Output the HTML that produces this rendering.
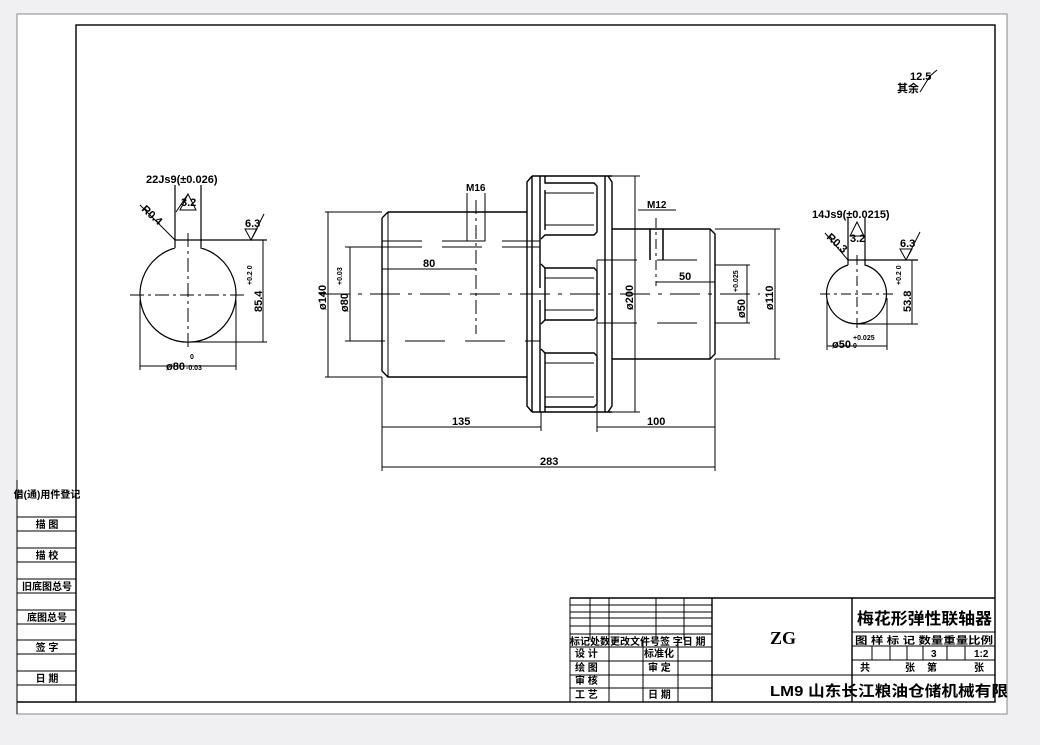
<!DOCTYPE html>
<html><head><meta charset="utf-8"><style>
html,body{margin:0;padding:0;background:#f0f0f2;}
svg{display:block}
text{font-family:"Liberation Sans","Noto Sans CJK SC",sans-serif;font-weight:bold;fill:#000}
</style></head><body>
<svg width="1040" height="745" viewBox="0 0 1040 745" xmlns="http://www.w3.org/2000/svg">
<rect x="17" y="14" width="990" height="700" fill="#fff" stroke="#888" stroke-width="1"/>
<g fill="none" stroke="#000">
<rect x="76" y="25" width="919" height="677" stroke-width="1.4"/>
<line x1="17" y1="480" x2="17" y2="714"/>
<line x1="17" y1="702" x2="76" y2="702" stroke-width="1.4"/>
<g stroke-width="1">
<line x1="17" y1="517" x2="76" y2="517"/><line x1="17" y1="531" x2="76" y2="531"/>
<line x1="17" y1="548" x2="76" y2="548"/><line x1="17" y1="562" x2="76" y2="562"/>
<line x1="17" y1="579" x2="76" y2="579"/><line x1="17" y1="593" x2="76" y2="593"/>
<line x1="17" y1="610" x2="76" y2="610"/><line x1="17" y1="624" x2="76" y2="624"/>
<line x1="17" y1="640" x2="76" y2="640"/><line x1="17" y1="654" x2="76" y2="654"/>
<line x1="17" y1="671" x2="76" y2="671"/><line x1="17" y1="685" x2="76" y2="685"/>
</g>
<g stroke-width="1">
<line x1="570" y1="598" x2="995" y2="598" stroke-width="1.4"/>
<line x1="570" y1="598" x2="570" y2="702"/>
<line x1="590" y1="598" x2="590" y2="640"/><line x1="609" y1="598" x2="609" y2="702"/>
<line x1="656" y1="598" x2="656" y2="640"/><line x1="684" y1="598" x2="684" y2="640"/>
<line x1="643" y1="640" x2="643" y2="702"/><line x1="678" y1="640" x2="678" y2="702"/>
<line x1="712" y1="598" x2="712" y2="702" stroke-width="1.4"/>
<line x1="852" y1="598" x2="852" y2="702" stroke-width="1.4"/>
<line x1="570" y1="605" x2="712" y2="605"/><line x1="570" y1="612" x2="712" y2="612"/>
<line x1="570" y1="618" x2="712" y2="618"/><line x1="570" y1="626" x2="712" y2="626"/>
<line x1="570" y1="634" x2="712" y2="634"/><line x1="570" y1="647" x2="712" y2="647"/>
<line x1="570" y1="661" x2="712" y2="661"/><line x1="570" y1="675" x2="712" y2="675"/>
<line x1="570" y1="688" x2="712" y2="688"/>
<line x1="712" y1="675" x2="995" y2="675"/>
<line x1="852" y1="632" x2="995" y2="632"/><line x1="852" y1="646" x2="995" y2="646"/>
<line x1="852" y1="660" x2="995" y2="660"/>
<line x1="872" y1="646" x2="872" y2="660"/><line x1="890" y1="646" x2="890" y2="660"/>
<line x1="907" y1="646" x2="907" y2="660"/><line x1="923" y1="646" x2="923" y2="660"/>
<line x1="947" y1="646" x2="947" y2="660"/><line x1="965" y1="646" x2="965" y2="660"/>
</g>
</g>

<g fill="none" stroke="#000" stroke-width="1.4">
<path d="M388 212 L527 212 M382 218 L388 212 M382 218 L382 371 L388 377 L527 377"/>
<line x1="388" y1="212" x2="388" y2="377" stroke-width="1"/>
<path d="M532 176 L527 182 L527 406 L532 412"/>
<line x1="532" y1="176" x2="532" y2="412"/>
<line x1="532" y1="176" x2="612" y2="176"/><line x1="532" y1="412" x2="612" y2="412"/>
<path d="M540 176 L540 288 M540 300 L540 412"/>
<path d="M545 176 L545 183 L594 183 L597 186 L597 232 L594 235 L545 235 L541 239"/>
<path d="M545 190 L545 230"/>
<path d="M541 264 L545 268 L594 268 L597 271 L597 317 L594 320 L545 320 L541 324"/>
<path d="M545 268 L545 320"/>
<path d="M541 349 L545 353 L594 353 L597 356 L597 404 L594 407 L545 407 L545 412"/>
<path d="M545 353 L545 407"/>
<g stroke-width="1">
<line x1="545" y1="193" x2="594" y2="193"/><line x1="545" y1="225" x2="594" y2="225"/>
<line x1="545" y1="278" x2="594" y2="278"/><line x1="545" y1="310" x2="594" y2="310"/>
<line x1="545" y1="363" x2="594" y2="363"/><line x1="545" y1="397" x2="594" y2="397"/>
</g>
<line x1="605" y1="176" x2="605" y2="412"/>
<path d="M608 176 L612 182 L612 406 L608 412"/>
<path d="M612 229 L710 229 L715 234 L715 354 L710 359 L612 359"/>
<line x1="710" y1="229" x2="710" y2="359" stroke-width="1"/>
</g>
<g fill="none" stroke="#000" stroke-width="1">
<g stroke-dasharray="40,20">
<line x1="382" y1="241" x2="540" y2="241"/><line x1="382" y1="247" x2="540" y2="247"/>
<line x1="345" y1="341" x2="540" y2="341"/>
<line x1="597" y1="260" x2="715" y2="260"/><line x1="597" y1="323" x2="715" y2="323"/>
</g>
<line x1="345" y1="247" x2="382" y2="247"/>
<line x1="541" y1="412" x2="541" y2="431"/>
<line x1="597" y1="260" x2="597" y2="432"/>
<line x1="320" y1="294" x2="760" y2="294" stroke-dasharray="30,8,4,8"/>
<rect x="467" y="212" width="18" height="29"/>
<line x1="476" y1="200" x2="476" y2="334" stroke-dasharray="14,4,3,4"/>
<line x1="467" y1="193" x2="467" y2="212"/><line x1="485" y1="193" x2="485" y2="212"/>
<line x1="650" y1="229" x2="650" y2="260" stroke-width="1.5"/><line x1="663" y1="229" x2="663" y2="260" stroke-width="1.5"/>
<line x1="656" y1="218" x2="656" y2="286" stroke-dasharray="10,4,3,4"/>
<line x1="638" y1="210" x2="676" y2="210"/>
<line x1="382" y1="269" x2="476" y2="269"/>
<line x1="656" y1="282" x2="715" y2="282"/>
<line x1="382" y1="427" x2="541" y2="427"/><line x1="597" y1="427" x2="715" y2="427"/>
<line x1="382" y1="467" x2="715" y2="467"/>
<line x1="382" y1="377" x2="382" y2="471"/><line x1="715" y1="359" x2="715" y2="471"/>
<line x1="325" y1="212" x2="382" y2="212"/><line x1="325" y1="377" x2="382" y2="377"/>
<line x1="328" y1="212" x2="328" y2="377"/>
<line x1="350" y1="247" x2="350" y2="341"/>
<line x1="612" y1="176" x2="640" y2="176"/><line x1="612" y1="412" x2="640" y2="412"/>
<line x1="635" y1="176" x2="635" y2="412"/>
<line x1="715" y1="265" x2="750" y2="265"/><line x1="715" y1="323" x2="750" y2="323"/>
<line x1="747" y1="265" x2="747" y2="323"/>
<line x1="715" y1="229" x2="780" y2="229"/><line x1="715" y1="359" x2="780" y2="359"/>
<line x1="775" y1="229" x2="775" y2="359"/>
</g>
<g font-size="11">
<text x="466" y="191" font-size="10">M16</text>
<text x="647" y="208" font-size="10">M12</text>
<text x="423" y="267">80</text>
<text x="679" y="280">50</text>
<text x="452" y="425">135</text>
<text x="647" y="425">100</text>
<text x="540" y="465">283</text>
<text transform="translate(326,310) rotate(-90)">ø140</text>
<text transform="translate(348,312) rotate(-90)">ø80</text>
<text transform="translate(342,285) rotate(-90)" font-size="7">+0.03</text>
<text transform="translate(633,310) rotate(-90)">ø200</text>
<text transform="translate(745,318) rotate(-90)">ø50</text>
<text transform="translate(738,292) rotate(-90)" font-size="7">+0.025</text>
<text transform="translate(773,310) rotate(-90)">ø110</text>
</g>

<g fill="none" stroke="#000" stroke-width="1.2">
<path d="M175 248 A48 48 0 1 0 201 248 L201 240 M175 248 L175 240"/>
<path d="M175 240 L175 185 M201 240 L201 185 M175 240 L267 240"/>
</g>
<g fill="none" stroke="#000" stroke-width="1">
<line x1="188" y1="233" x2="188" y2="350" stroke-dasharray="14,4,3,4"/>
<line x1="130" y1="295" x2="248" y2="295" stroke-dasharray="14,4,3,4"/>
<line x1="188" y1="342" x2="267" y2="342"/>
<line x1="263" y1="240" x2="263" y2="342"/>
<line x1="140" y1="300" x2="140" y2="370"/><line x1="236" y1="300" x2="236" y2="370"/>
<line x1="140" y1="366" x2="236" y2="366"/>
<line x1="140" y1="205" x2="175" y2="240"/>
<path d="M180 210 L188 194 L196 210 Z M176 212 L188 194"/>
<path d="M245 229 L251 240 L257 229 Z M251 240 L264 214"/>
</g>
<g font-size="11">
<text x="146" y="183">22Js9(±0.026)</text>
<text x="181" y="206">3.2</text>
<text x="245" y="227">6.3</text>
<text transform="translate(141,210) rotate(42)">R0.4</text>
<text transform="translate(262,312) rotate(-90)">85.4</text>
<text transform="translate(252,285) rotate(-90)" font-size="7">+0.2 0</text>
<text x="166" y="370">ø80</text><text x="186" y="370" font-size="7">-0.03</text>
<text x="190" y="359" font-size="7">0</text>
</g>

<g fill="none" stroke="#000" stroke-width="1.2">
<path d="M848 265 A30 30 0 1 0 865 265 L865 260 M848 265 L848 260"/>
<path d="M848 260 L848 218 M865 260 L865 218 M848 260 L918 260"/>
</g>
<g fill="none" stroke="#000" stroke-width="1">
<line x1="857" y1="255" x2="857" y2="330" stroke-dasharray="10,4,3,4"/>
<line x1="820" y1="294" x2="894" y2="294" stroke-dasharray="10,4,3,4"/>
<line x1="857" y1="324" x2="918" y2="324"/>
<line x1="912" y1="260" x2="912" y2="324"/>
<line x1="827" y1="298" x2="827" y2="350"/><line x1="887" y1="298" x2="887" y2="350"/>
<line x1="827" y1="346" x2="887" y2="346"/>
<line x1="825" y1="233" x2="848" y2="260"/>
<path d="M850 236 L857 222 L864 236 Z"/>
<path d="M900 249 L906 260 L912 249 Z M906 260 L920 232"/>
</g>
<g font-size="11">
<text x="812" y="218">14Js9(±0.0215)</text>
<text x="850" y="242">3.2</text>
<text x="900" y="247">6.3</text>
<text transform="translate(826,238) rotate(42)">R0.3</text>
<text transform="translate(911,312) rotate(-90)">53.8</text>
<text transform="translate(901,285) rotate(-90)" font-size="7">+0.2 0</text>
<text x="832" y="348">ø50</text><text x="853" y="340" font-size="7">+0.025</text><text x="853" y="348" font-size="7">0</text>
</g>

<text x="910" y="80" font-size="11">12.5</text>
<text x="897" y="92" font-size="11">其余</text>
<path d="M920 92 L930 76 L937 70" fill="none" stroke="#000"/>

<g font-size="10" text-anchor="middle">
<text x="47" y="498">借(通)用件登记</text>
<text x="47" y="528">描  图</text>
<text x="47" y="559">描  校</text>
<text x="47" y="590">旧底图总号</text>
<text x="47" y="621">底图总号</text>
<text x="47" y="651">签  字</text>
<text x="47" y="682">日  期</text>
</g>
<g font-size="10">
<text x="570" y="645">标记处数更改文件号签 字日 期</text>
<text x="575" y="657">设 计</text><text x="644" y="657">标准化</text>
<text x="575" y="671">绘 图</text><text x="648" y="671">审 定</text>
<text x="575" y="684">审 核</text>
<text x="575" y="698">工 艺</text><text x="648" y="698">日 期</text>
<text x="855" y="644" textLength="138" lengthAdjust="spacingAndGlyphs">图 样 标 记 数量重量比例</text>
<text x="931" y="657">3</text><text x="974" y="657">1:2</text>
<text x="860" y="671">共</text><text x="905" y="671">张</text><text x="927" y="671">第</text><text x="974" y="671">张</text>
</g>
<text x="770" y="644" font-size="18" style="font-family:'Liberation Serif',serif">ZG</text>
<text x="857" y="624" font-size="16" textLength="135" lengthAdjust="spacingAndGlyphs">梅花形弹性联轴器</text>
<text x="770" y="696" font-size="15" textLength="238" lengthAdjust="spacingAndGlyphs">LM9  山东长江粮油仓储机械有限</text>
</svg>
</body></html>
